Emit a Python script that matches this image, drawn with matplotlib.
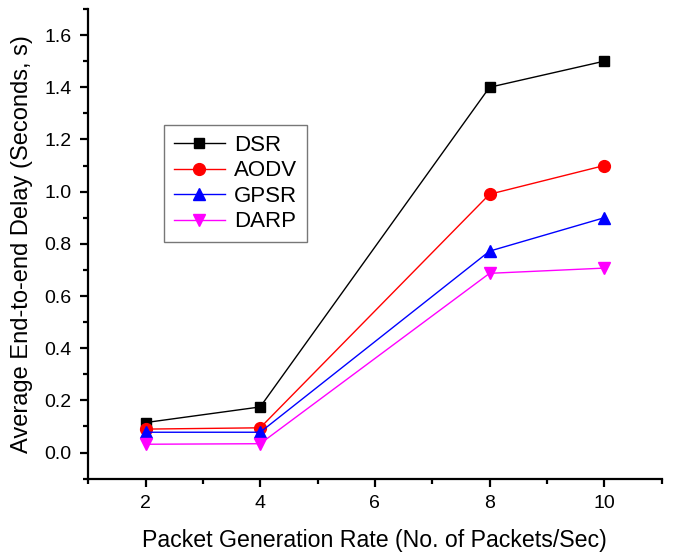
import matplotlib
matplotlib.use("Agg")
import matplotlib.pyplot as plt
from matplotlib.ticker import MultipleLocator

plt.rcParams['font.family'] = ['Liberation Sans', 'DejaVu Sans']

rates = [2, 4, 8, 10]
dsr = [0.115, 0.175, 1.40, 1.50]
aodv = [0.09, 0.095, 0.99, 1.10]
gpsr = [0.078, 0.078, 0.772, 0.90]
darp = [0.032, 0.034, 0.687, 0.707]

fig = plt.figure(figsize=(6.73, 5.55), dpi=100)
ax = fig.add_axes([0.131, 0.1375, 0.852, 0.8463])

ax.plot(rates, dsr, color='black', marker='s', ms=7.5, lw=1, label='DSR')
ax.plot(rates, aodv, color='red', marker='o', ms=8.5, lw=1, label='AODV')
ax.plot(rates, gpsr, color='blue', marker='^', ms=9, lw=1, label='GPSR')
ax.plot(rates, darp, color='magenta', marker='v', ms=9, lw=1, label='DARP')

ax.set_xlim(1, 11)
ax.set_ylim(-0.1, 1.7)
ax.xaxis.set_major_locator(MultipleLocator(2))
ax.xaxis.set_minor_locator(MultipleLocator(1))
ax.yaxis.set_major_locator(MultipleLocator(0.2))
ax.yaxis.set_minor_locator(MultipleLocator(0.1))
ax.yaxis.set_major_formatter(plt.FuncFormatter(lambda v, p: f"{v:.1f}"))
ax.set_xticks([2, 4, 6, 8, 10])

for s in ['top', 'right']:
    ax.spines[s].set_visible(False)
for s in ['left', 'bottom']:
    ax.spines[s].set_linewidth(1.6)

ax.tick_params(which='major', direction='out', length=6, width=1.6, labelsize=14, pad=6)
ax.tick_params(which='minor', direction='out', length=3.5, width=1.6)

ax.set_xlabel('Packet Generation Rate (No. of Packets/Sec)', fontsize=16.7, labelpad=12)
ax.set_ylabel('Average End-to-end Delay (Seconds, s)', fontsize=17, labelpad=8)

leg = ax.legend(loc='upper left', bbox_to_anchor=(0.132, 0.753), fontsize=16,
                frameon=True, fancybox=False, edgecolor='#555555',
                handlelength=2.3, handletextpad=0.4, borderpad=0.45,
                labelspacing=0.2, borderaxespad=0)
leg.get_frame().set_linewidth(1)

fig.savefig('out.png', dpi=100)
